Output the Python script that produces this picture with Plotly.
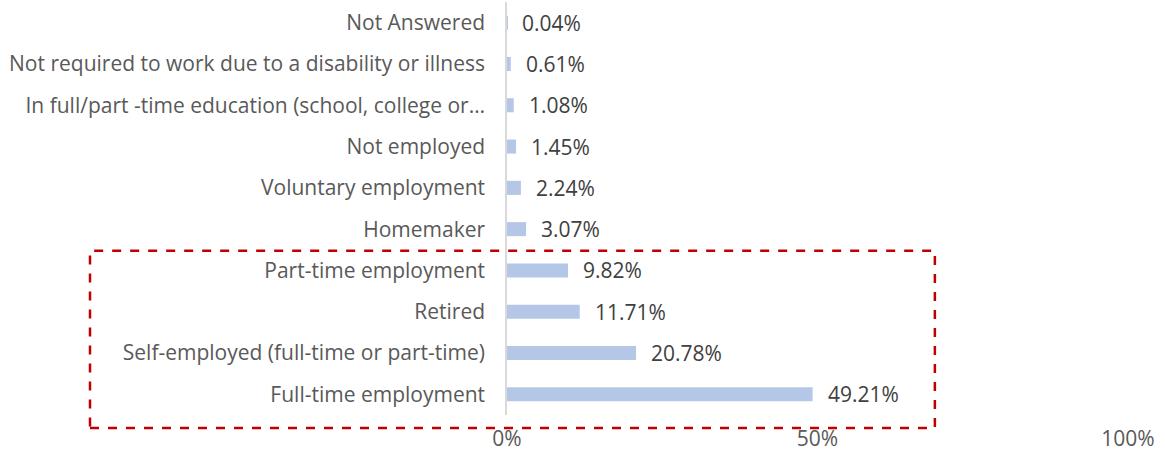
import plotly.graph_objects as go

categories = [
    "Not Answered",
    "Not required to work due to a disability or illness",
    "In full/part -time education (school, college or…",
    "Not employed",
    "Voluntary employment",
    "Homemaker",
    "Part-time employment",
    "Retired",
    "Self-employed (full-time or part-time)",
    "Full-time employment",
]
values = [0.04, 0.61, 1.08, 1.45, 2.24, 3.07, 9.82, 11.71, 20.78, 49.21]
x_ticks = [0, 50, 100]
x_tick_labels = ["0%", "50%", "100%"]

FONT = "'Open Sans', Lato, sans-serif"
FS = 21

fig = go.Figure()
fig.add_trace(go.Bar(
    x=values, y=categories, orientation="h",
    marker=dict(color="#B4C7E7", line=dict(width=0)),
    hoverinfo="skip",
))

for c, v in zip(categories, values):
    fig.add_annotation(
        x=v, y=c, xref="x", yref="y", text=f"{v:.2f}%", showarrow=False,
        xanchor="left", yanchor="middle", xshift=13,
        font=dict(family=FONT, size=FS, color="#404040"),
    )

# red dashed highlight box around top four categories
fig.add_shape(
    type="rect", xref="paper", yref="paper",
    x0=-0.6715, x1=0.689, y0=-0.0316, y1=0.398,
    line=dict(color="#C00000", width=2.5, dash="dash"),
    fillcolor="rgba(0,0,0,0)",
)

fig.update_layout(
    width=1165, height=457,
    margin=dict(l=507, r=37, t=2, b=42, autoexpand=False),
    paper_bgcolor="white", plot_bgcolor="white",
    showlegend=False,
    bargap=0.66,
    font=dict(family=FONT, size=FS, color="#595959"),
    xaxis=dict(
        range=[0, 100], tickvals=x_ticks, ticktext=x_tick_labels,
        showgrid=False, zeroline=False, showline=False, ticks="",
        ticklabelstandoff=9,
        tickfont=dict(family=FONT, size=FS, color="#595959"),
    ),
    yaxis=dict(
        autorange="reversed", showgrid=False, zeroline=False,
        showline=True, linecolor="#D9D9D9", linewidth=1.5, ticks="",
        ticklabelstandoff=16,
        tickfont=dict(family=FONT, size=FS, color="#595959"),
    ),
)

fig.write_html(
    "out.html",
    config={"displayModeBar": False},
    post_script="document.body.style.margin='0';document.body.style.padding='0';",
)
